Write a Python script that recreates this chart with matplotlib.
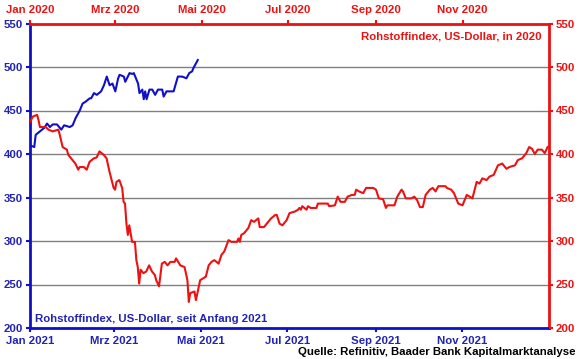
import matplotlib
matplotlib.use("Agg")
import matplotlib.pyplot as plt
import matplotlib.dates as mdates
import pandas as pd
import numpy as np

# ---------------- data ----------------
# blue: Rohstoffindex since start of 2021 (day offset from 2021-01-01, value)
blue_day = [0, 3, 4, 7, 10, 12, 14, 16, 19, 22, 24, 28, 30, 32, 35, 37, 39, 42, 43, 45, 47,
            50, 52, 54, 56, 58, 60, 62, 63, 66, 67, 70, 72, 73, 76, 77, 79, 80, 81, 82, 84,
            86, 88, 90, 93, 94, 96, 101, 104, 107, 110, 112, 114, 115, 118]
blue_val = [410, 408, 422, 426, 430, 435, 431, 434, 434, 428, 433, 431, 433, 441, 450, 458,
            460, 464, 464, 470, 468, 472, 479, 489, 479, 481, 472, 487, 491, 489, 483, 493,
            492, 493, 481, 470, 474, 463, 472, 463, 474, 474, 468, 474, 474, 466, 472, 472,
            489, 489, 487, 493, 495, 499, 508]

# red: Rohstoffindex in 2020 (day offset from 2020-01-01, value)
red_day = [0, 2, 5, 6, 7, 11, 13, 16, 20, 21, 23, 26, 27, 29, 32, 34, 35, 38, 40, 42, 45,
           47, 49, 52, 54, 56, 59, 60, 61, 63, 65, 66, 67, 68, 69, 70, 72, 74, 75, 76, 77,
           78, 80, 82, 84, 86, 88, 89, 91, 93, 95, 97, 99, 102, 103, 106, 109, 111, 112,
           113, 116, 117, 120, 122, 124, 126, 128, 130, 133, 135, 137, 140, 142, 146, 147,
           148, 149, 151, 154, 156, 158, 161, 162, 165, 168, 170, 173, 174, 176, 178, 181,
           183, 187, 189, 190, 191, 192, 195, 196, 198, 202, 203, 207, 210, 211, 215, 217,
           219, 222, 224, 227, 229, 230, 232, 235, 237, 242, 244, 246, 249, 251, 252, 254,
           257, 259, 262, 263, 265, 269, 271, 273, 275, 277, 279, 282, 284, 286, 288, 293,
           294, 297, 299, 302, 305, 308, 310, 312, 315, 317, 319, 322, 324, 327, 330, 333,
           336, 338, 342, 344, 347, 350, 352, 354, 356, 358, 361, 363, 365]
red_val = [437, 443, 445, 439, 431, 431, 428, 426, 428, 422, 408, 405, 399, 395, 389, 382,
           385, 385, 382, 391, 395, 396, 403, 399, 395, 380, 361, 359, 368, 370, 361, 345,
           343, 320, 307, 318, 299, 299, 278, 270, 251, 267, 263, 265, 272, 265, 261, 255,
           248, 274, 276, 272, 276, 276, 280, 272, 270, 255, 230, 240, 242, 232, 255, 257,
           259, 272, 276, 278, 274, 284, 288, 301, 299, 299, 303, 299, 307, 309, 315, 324,
           322, 326, 316, 316, 322, 326, 330, 330, 320, 318, 324, 332, 334, 336, 338, 336,
           340, 336, 340, 338, 338, 343, 343, 343, 340, 341, 351, 345, 345, 351, 353, 353,
           359, 357, 355, 361, 361, 359, 349, 348, 338, 341, 341, 341, 351, 359, 357, 349,
           349, 351, 347, 339, 339, 353, 359, 361, 357, 363, 363, 361, 359, 355, 343, 341,
           353, 351, 349, 368, 366, 372, 370, 374, 376, 387, 389, 383, 385, 387, 393, 395,
           401, 408, 406, 400, 405, 405, 401, 408]

y_ticks = [200, 250, 300, 350, 400, 450, 500, 550]
bottom_tick_dates = ["2021-01-01", "2021-03-01", "2021-05-01", "2021-07-01", "2021-09-01", "2021-11-01"]
bottom_tick_labels = ["Jan 2021", "Mrz 2021", "Mai 2021", "Jul 2021", "Sep 2021", "Nov 2021"]
top_tick_dates = ["2020-01-01", "2020-03-01", "2020-05-01", "2020-07-01", "2020-09-01", "2020-11-01"]
top_tick_labels = ["Jan 2020", "Mrz 2020", "Mai 2020", "Jul 2020", "Sep 2020", "Nov 2020"]

label_blue = "Rohstoffindex, US-Dollar, seit Anfang 2021"
label_red = "Rohstoffindex, US-Dollar, in 2020"
source = "Quelle: Refinitiv, Baader Bank Kapitalmarktanalyse"

# ---------------- style ----------------
BLUE = "#1010c8"
BLUE_T = "#2323b4"
RED = "#ee1111"
FONT = "Liberation Sans"
FS = 8.2

plt.rcParams["font.family"] = [FONT, "DejaVu Sans"]
plt.rcParams["font.weight"] = "bold"

fig = plt.figure(figsize=(5.8, 3.59), dpi=100)
rect = [30 / 580, 1 - 328 / 359, (549 - 30) / 580, (328 - 23.5) / 359]
ax = fig.add_axes(rect)
axr = fig.add_axes(rect, frameon=False)

blue_dates = pd.Timestamp("2021-01-01") + pd.to_timedelta(blue_day, unit="D")
red_dates = pd.Timestamp("2020-01-01") + pd.to_timedelta(red_day, unit="D")

ax.plot(blue_dates, blue_val, color=BLUE, lw=1.5, zorder=3)
axr.plot(red_dates, red_val, color=RED, lw=1.5, zorder=3)

ax.set_xlim(pd.Timestamp("2021-01-01"), pd.Timestamp("2022-01-01"))
axr.set_xlim(pd.Timestamp("2020-01-01"), pd.Timestamp("2021-01-01"))
ax.set_ylim(200, 550)
axr.set_ylim(200, 550)

ax.set_yticks(y_ticks)
axr.set_yticks(y_ticks)
ax.set_xticks(pd.to_datetime(bottom_tick_dates))
ax.set_xticklabels(bottom_tick_labels)
axr.set_xticks(pd.to_datetime(top_tick_dates))
axr.set_xticklabels(top_tick_labels)

ax.yaxis.grid(True, color="#808080", lw=1.0)
ax.set_axisbelow(True)

ax.tick_params(axis="both", which="both", colors=BLUE, labelcolor=BLUE_T, direction="out",
               length=3, width=1.5, labelsize=FS, pad=2)
ax.tick_params(axis="x", pad=3)
axr.xaxis.tick_top()
axr.yaxis.tick_right()
axr.tick_params(axis="both", colors=RED, labelcolor=RED, direction="out", length=3,
                width=1.5, labelsize=FS, pad=2)
axr.tick_params(axis="x", pad=3)
for lab in ax.get_xticklabels() + ax.get_yticklabels() + axr.get_xticklabels() + axr.get_yticklabels():
    lab.set_fontweight("bold")

ax.spines["left"].set_color(BLUE)
ax.spines["bottom"].set_color(BLUE)
ax.spines["top"].set_color(RED)
ax.spines["right"].set_color(RED)
for s in ax.spines.values():
    s.set_linewidth(2)

ax.text(0.01, 0.014, label_blue, transform=ax.transAxes, color=BLUE_T, fontsize=FS,
        fontweight="bold", ha="left", va="bottom")
axr.text(0.985, 0.973, label_red, transform=axr.transAxes, color=RED, fontsize=FS,
         fontweight="bold", ha="right", va="top")
fig.text(0.993, 0.005, source, color="black", fontsize=FS, fontweight="bold",
         ha="right", va="bottom")

fig.savefig("out.png", dpi=100)
